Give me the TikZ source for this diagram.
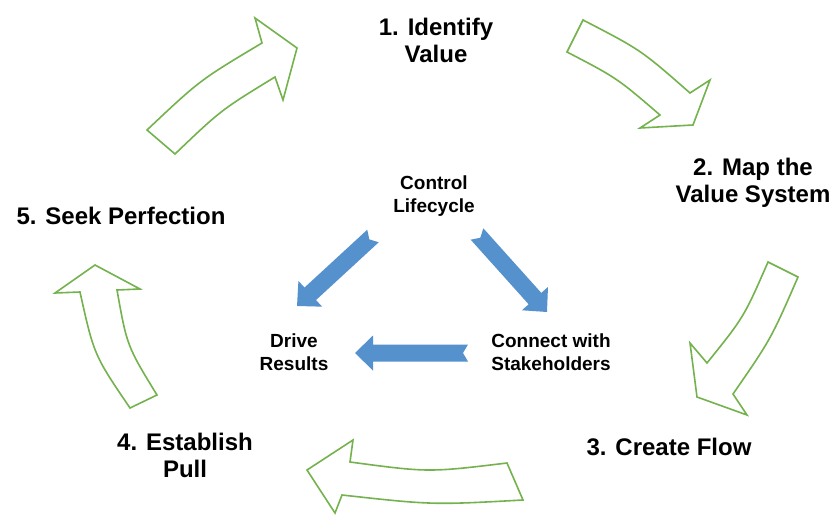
\documentclass[tikz,border=0pt]{standalone}
\usepackage{fontspec}
\setmainfont{Liberation Sans}
\usetikzlibrary{calc}

\definecolor{cyclegreen}{RGB}{116,178,78}
\definecolor{flowblue}{RGB}{85,145,205}

\tikzset{
  stepname/.style={font=\fontsize{24}{27}\selectfont\bfseries, align=center, inner sep=0pt},
  corename/.style={font=\fontsize{19}{23}\selectfont\bfseries, align=center, inner sep=0pt},
  cyclearrow/.style={draw=cyclegreen, line width=1.6pt, fill=white, line join=miter},
  flowfill/.style={fill=flowblue},
}

% Straight block arrow with a notched tail, drawn from coordinate #1 (tail) to #2 (tip)
\newcommand\notchedarrow[2]{%
  \path let \p1=($(#2)-(#1)$) in
    \pgfextra{\pgfmathsetmacro\faang{atan2(\y1,\x1)}%
              \pgfmathsetmacro\falen{veclen(\x1,\y1)}%
              \global\let\faang\faang\global\let\falen\falen};
  \fill[flowfill, shift={(#1)}, rotate=\faang]
    (0,-8.5) -- (5,0) -- (0,8.5) -- ({\falen-18},8.5) -- ({\falen-18},17.5)
    -- (\falen,0) -- ({\falen-18},-17.5) -- ({\falen-18},-8.5) -- cycle;
}

\begin{document}
\begin{tikzpicture}[x=1pt, y=-1pt]
  \useasboundingbox[fill=white] (0,0) rectangle (837,514);

  % the five steps of the cycle
  \node[stepname] (s1) at (436,40)  {1. Identify\\Value};
  \node[stepname] (s2) at (753,183) {2. Map the\\Value System};
  \node[stepname] (s3) at (669,447) {3. Create Flow};
  \node[stepname] (s4) at (185,455) {4. Establish\\Pull};
  \node[stepname] (s5) at (121,216) {5. Seek Perfection};

  % curved outline arrows between the steps
  \draw[cyclearrow] (147,130) .. controls (200,80) .. (262,43) -- (255,18) -- (297,48)
    -- (283,100) -- (275,77) .. controls (221,110) .. (175,154) -- cycle;
  \draw[cyclearrow] (583,20) .. controls (641,50) .. (690,93) -- (710,80) -- (693,125)
    -- (640,128) -- (660,115) .. controls (617,78) .. (567,52) -- cycle;
  \draw[cyclearrow] (768,262) .. controls (744,317) .. (707,363) -- (690,343) -- (697,397)
    -- (747,415) -- (733,394) .. controls (771,339) .. (798,277) -- cycle;
  \draw[cyclearrow] (507,463) .. controls (428.5,472.5) .. (350,462) -- (353,440) -- (307,470)
    -- (335,513) -- (342,495) .. controls (432.5,505) .. (523,500) -- cycle;
  \draw[cyclearrow] (130,408) .. controls (94,355) .. (80,292) -- (55,293) -- (95,265)
    -- (140,289) -- (117,290) .. controls (127,346) .. (157,395) -- cycle;

  % inner triangle
  \node[corename] (ctl) at (434,196) {Control\\Lifecycle};
  \node[corename] (drv) at (294,352) {Drive\\Results};
  \node[corename] (con) at (551,352) {Connect with\\Stakeholders};

  \coordinate (ctl-drv-a) at (373,236);
  \coordinate (ctl-drv-b) at (297,306);
  \coordinate (ctl-con-a) at (477,234);
  \coordinate (ctl-con-b) at (547,312);
  \coordinate (con-drv-a) at (468,353);
  \coordinate (con-drv-b) at (355,353);

  \notchedarrow{ctl-drv-a}{ctl-drv-b}
  \notchedarrow{ctl-con-a}{ctl-con-b}
  \notchedarrow{con-drv-a}{con-drv-b}
\end{tikzpicture}
\end{document}
